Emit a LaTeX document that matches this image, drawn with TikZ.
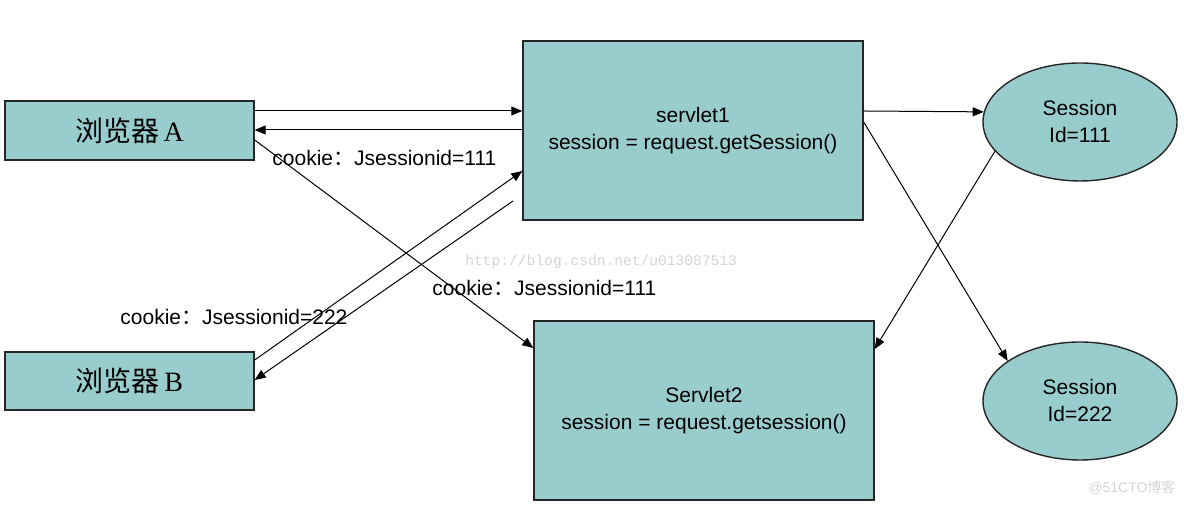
\documentclass[tikz,border=0pt]{standalone}
\usepackage{fontspec}
\setmainfont{Liberation Sans}
\newfontfamily\cjk{Noto Sans CJK SC}
\newfontfamily\serifA{Liberation Serif}
\newfontfamily\monoW{Liberation Mono}
\usetikzlibrary{arrows.meta,shapes.geometric,calc}
\definecolor{boxfill}{HTML}{99CCCC}
\definecolor{wmgray}{HTML}{D4D4D4}
\tikzset{
  box/.style={draw=black!85, line width=0.7pt, fill=boxfill, inner sep=0pt, rectangle},
  ell/.style={draw=black!85, line width=0.7pt, fill=boxfill, inner sep=0pt, ellipse},
  arr/.style={-{Triangle[length=5.5pt,width=4.5pt]}, line width=0.5pt},
  lbl/.style={font=\fontsize{10.5pt}{12.5pt}\selectfont, inner sep=0pt},
  cn/.style={font=\fontsize{14pt}{16pt}\selectfont, align=center}
}
\begin{document}
\begin{tikzpicture}[x=0.5pt,y=-0.5pt]
\useasboundingbox (0,0) rectangle (1184,506);
% nodes
\node[box, minimum width=124.5pt, minimum height=29.5pt, cn] (A) at (129.5,130.5) {\cjk 浏览器\,\serifA A};
\node[box, minimum width=124.5pt, minimum height=29pt, cn] (B) at (129.5,381) {\cjk 浏览器\,\serifA B};
\node[box, minimum width=170pt, minimum height=89.5pt, lbl, align=center] (S1) at (693,130.5) {servlet1\\[1pt]session = request.getSession()};
\node[box, minimum width=170pt, minimum height=89.5pt, lbl, align=center] (S2) at (704,410.5) {Servlet2\\[1pt]session = request.getsession()};
\node[ell, minimum width=97pt, minimum height=59pt, lbl, align=center] (E1) at (1080,122) {Session\\[1pt]Id=111};
\node[ell, minimum width=97pt, minimum height=59pt, lbl, align=center] (E2) at (1080,401) {Session\\[1pt]Id=222};
\coordinate (free) at (513,201);
% connectors
\draw[arr] ($(A.east)+(0,-19.5)$) -- ($(S1.west)+(0,-19.5)$);
\draw[arr] ($(S1.west)+(0,-0.5)$) -- ($(A.east)+(0,-0.5)$);
\draw[arr] ($(A.east)+(0,9.5)$) -- ($(S2.west)+(0,-62.5)$);
\draw[arr] ($(B.east)+(0,-21)$) -- ($(S1.west)+(0,40.5)$);
\draw[arr] (free) -- ($(B.east)+(0,-1)$);
\draw[arr] ($(S1.east)+(0,-19.5)$) -- (E1.174);
\draw[arr] ($(S1.east)+(0,-8.5)$) -- (E2.151);
\draw[arr] (E1.199) -- ($(S2.east)+(0,-61.5)$);
% labels
\node[lbl, anchor=west] (L1) at (272,158) {cookie{\cjk ：}Jsessionid=111};
\node[lbl, anchor=west] (L2) at (432,288) {cookie{\cjk ：}Jsessionid=111};
\node[lbl, anchor=west] (L3) at (120,317) {cookie{\cjk ：}Jsessionid=222};
% watermarks
\node[anchor=west, inner sep=0pt, text=wmgray, font=\monoW\fontsize{7.3pt}{9pt}\selectfont] (W1) at (465,262) {http://blog.csdn.net/u013087513};
\node[anchor=west, inner sep=0pt, text=wmgray, font=\fontsize{7pt}{8pt}\selectfont] (W2) at (1088,488) {@51CTO{\cjk 博客}};
\end{tikzpicture}
\end{document}
